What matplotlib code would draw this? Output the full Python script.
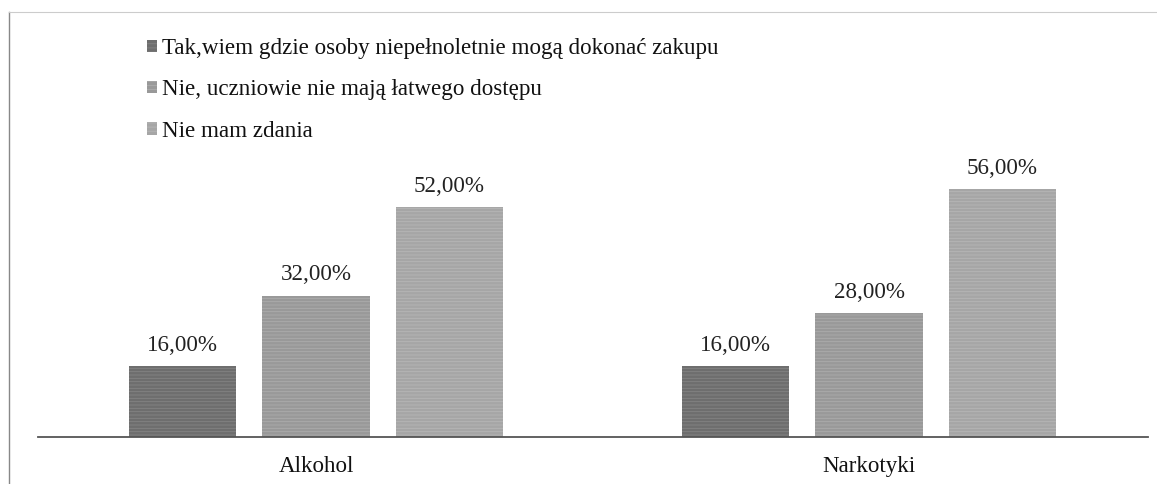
import matplotlib
matplotlib.use("Agg")
import matplotlib.pyplot as plt
from matplotlib.patches import Patch
from matplotlib.lines import Line2D
import numpy as np

categories = ["Alkohol", "Narkotyki"]
series_names = [
    "Tak,wiem gdzie osoby niepełnoletnie mogą dokonać zakupu",
    "Nie, uczniowie nie mają łatwego dostępu",
    "Nie mam zdania",
]
tak_values = [16.0, 16.0]
nie_values = [32.0, 28.0]
brak_values = [52.0, 56.0]

plt.rcParams['font.family'] = ['Liberation Serif', 'DejaVu Serif']
plt.rcParams['hatch.linewidth'] = 0.6

W, H = 1157, 484
fig = plt.figure(figsize=(W / 100, H / 100), dpi=100)
fig.patch.set_facecolor('white')

FS = 16.6

# axes placement in pixels
x0, x1 = 38, 1148
ybase, ytop = 437, 30
ax = fig.add_axes([x0 / W, (H - ybase) / H, (x1 - x0) / W, (ybase - ytop) / H])

colors = ['#6e6e6e', '#999999', '#a6a6a6']
hatch_colors = ['#848484', '#acacac', '#b6b6b6']
series = [tak_values, nie_values, brak_values]
offsets = [-0.2414, 0.0, 0.2414]
width = 0.195
x = np.arange(len(categories))
px_per_pct = 4.42

for vals, off, c, hc, name in zip(series, offsets, colors, hatch_colors, series_names):
    bars = ax.bar(x + off, vals, width=width, color=c, edgecolor=hc,
                  linewidth=0, hatch='-----', label=name)
    for b, v in zip(bars, vals):
        ax.text(b.get_x() + b.get_width() / 2, v + 21 / px_per_pct,
                f"{v:.2f}%".replace('.', ','), ha='center', va='center',
                fontsize=FS, color='#222222')

ax.set_ylim(0, (ybase - ytop) / px_per_pct)
ax.set_xlim(-0.5027, 1.5045)

for s in ['top', 'right', 'left']:
    ax.spines[s].set_visible(False)
ax.spines['bottom'].set_color('#555555')
ax.spines['bottom'].set_linewidth(1.3)
ax.set_yticks([])
ax.set_xticks(x)
ax.set_xticklabels(categories, fontsize=FS, color='#111111')
ax.tick_params(axis='x', length=0, pad=14)

# legend
handles = [Patch(facecolor=c, edgecolor=hc, hatch='----', linewidth=0) for c, hc in zip(colors, hatch_colors)]
leg = fig.legend(handles, series_names, loc='upper left',
                 bbox_to_anchor=(147 / W, 1 - 38 / H), frameon=False,
                 fontsize=FS, handlelength=0.45, handleheight=0.45,
                 handletextpad=0.2, labelspacing=0.88, borderaxespad=0,
                 borderpad=0)
for t in leg.get_texts():
    t.set_color('#111111')

# scanned page frame lines
fig.add_artist(Line2D([9 / W, 9 / W], [0, 1 - 12 / H], transform=fig.transFigure,
                      color='#888888', linewidth=1.0))
fig.add_artist(Line2D([9 / W, 1], [1 - 12 / H, 1 - 12 / H], transform=fig.transFigure,
                      color='#cccccc', linewidth=0.8))

fig.savefig("out.png", dpi=100, facecolor='white')
